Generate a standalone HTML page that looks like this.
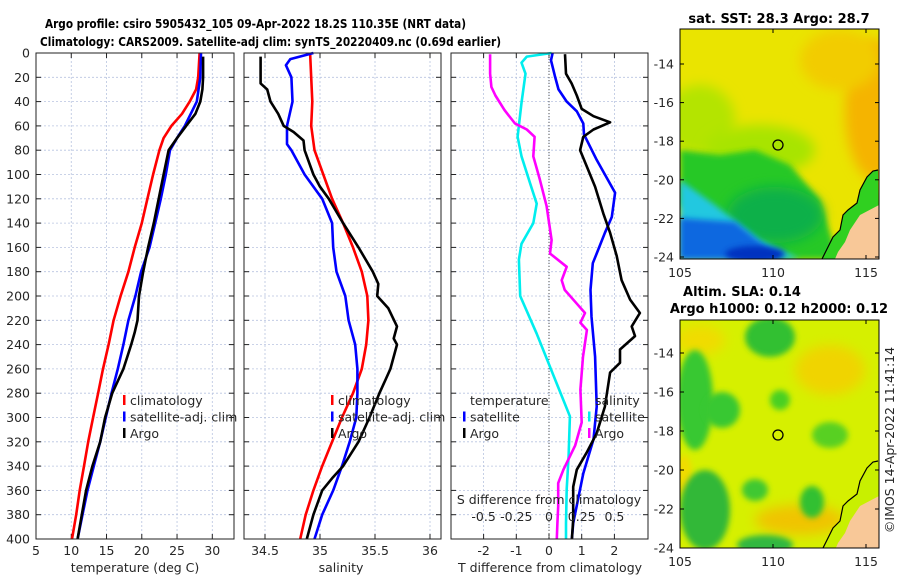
<!DOCTYPE html>
<html><head><meta charset="utf-8"><style>
body{margin:0;background:#fff;}
svg{display:block;font-family:"DejaVu Sans","Liberation Sans",sans-serif;}
.t{font-size:12.5px;fill:#262626;}
.b{font-size:13px;font-weight:bold;fill:#000;}
.tt{font-size:12px;font-weight:bold;fill:#000;}
</style></head><body>
<svg id="fig" width="900" height="580" viewBox="0 0 900 580">
<defs>
<filter id="bl" x="-50%" y="-50%" width="200%" height="200%"><feGaussianBlur stdDeviation="6"/></filter>
<filter id="bl2" x="-50%" y="-50%" width="200%" height="200%"><feGaussianBlur stdDeviation="3"/></filter>
<clipPath id="c1"><rect x="680" y="29" width="199" height="230"/></clipPath>
<clipPath id="c2"><rect x="680" y="320" width="199" height="228"/></clipPath>
</defs>
<text class="tt" x="45" y="28" textLength="421" lengthAdjust="spacingAndGlyphs">Argo profile: csiro 5905432_105 09-Apr-2022 18.2S 110.35E (NRT data)</text>
<text class="tt" x="40" y="46" textLength="461" lengthAdjust="spacingAndGlyphs">Climatology: CARS2009. Satellite-adj clim: synTS_20220409.nc (0.69d earlier)</text>

<g id="panels"></g>

<!-- top map -->
<g>
<g clip-path="url(#c1)">
<rect x="680" y="29" width="199" height="230" fill="#eae400"/>
<ellipse cx="875" cy="110" rx="30" ry="70" fill="#f5b400" filter="url(#bl)"/>
<ellipse cx="840" cy="60" rx="40" ry="30" fill="#f2cc00" filter="url(#bl)"/>
<ellipse cx="700" cy="120" rx="35" ry="35" fill="#b4e400" filter="url(#bl)"/>
<ellipse cx="760" cy="150" rx="55" ry="25" fill="#a8e400" filter="url(#bl)"/>
<polygon points="680,150 720,155 755,150 790,165 820,200 838,259 760,259 680,205" fill="#28c828" filter="url(#bl2)"/>
<ellipse cx="775" cy="215" rx="48" ry="28" fill="#10b048" filter="url(#bl)"/>
<polygon points="680,180 715,205 760,240 800,259 680,259" fill="#20c8e0" filter="url(#bl2)"/>
<polygon points="680,218 735,222 770,250 780,259 680,259" fill="#1068e0" filter="url(#bl2)"/>
<ellipse cx="755" cy="254" rx="30" ry="8" fill="#0030c0" filter="url(#bl2)"/>
<polygon points="878,170 873,171 867,177 860,190 857,203 848,210 843,215 840,230 833,237 828,247 822,259 879,259" fill="#30d020"/>
<polygon points="879,205 860,215 850,230 845,242 838,252 835,259 879,259" fill="#f8c898"/>
<polyline points="878,170 873,171 867,177 860,190 857,203 848,210 843,215 840,230 833,237 828,247 822,259" fill="none" stroke="#000" stroke-width="1.2"/>
</g>
<rect x="680" y="29" width="199" height="230" fill="none" stroke="#000" stroke-width="1"/>
<circle cx="778" cy="145" r="5" fill="none" stroke="#000" stroke-width="1.3"/>
<text class="b" x="779" y="23" text-anchor="middle">sat. SST: 28.3 Argo: 28.7</text>
</g>
<!-- bottom map -->
<g>
<g clip-path="url(#c2)">
<rect x="680" y="320" width="199" height="228" fill="#d6f000"/>
<ellipse cx="700" cy="340" rx="25" ry="15" fill="#f0dc00" filter="url(#bl)"/>
<ellipse cx="830" cy="370" rx="35" ry="25" fill="#f0d400" filter="url(#bl)"/>
<ellipse cx="800" cy="520" rx="45" ry="15" fill="#f0c400" filter="url(#bl)"/>
<ellipse cx="684" cy="475" rx="8" ry="20" fill="#f0dc00" filter="url(#bl2)"/>
<ellipse cx="770" cy="337" rx="25" ry="20" fill="#30c030" filter="url(#bl2)"/>
<ellipse cx="695" cy="400" rx="18" ry="50" fill="#38c830" filter="url(#bl2)"/>
<ellipse cx="722" cy="410" rx="18" ry="18" fill="#38c830" filter="url(#bl2)"/>
<ellipse cx="705" cy="510" rx="25" ry="40" fill="#30b838" filter="url(#bl2)"/>
<ellipse cx="780" cy="400" rx="10" ry="10" fill="#48d020" filter="url(#bl2)"/>
<ellipse cx="830" cy="435" rx="18" ry="13" fill="#58d020" filter="url(#bl2)"/>
<ellipse cx="755" cy="490" rx="13" ry="11" fill="#40c830" filter="url(#bl2)"/>
<ellipse cx="812" cy="502" rx="12" ry="16" fill="#30c030" filter="url(#bl2)"/>
<ellipse cx="765" cy="545" rx="28" ry="10" fill="#30b840" filter="url(#bl2)"/>
<polygon points="878,461 873,462 867,468 860,481 857,494 848,501 843,506 840,521 833,528 828,538 822,550 879,550" fill="#c8f000"/>
<polygon points="879,496 860,506 850,521 845,533 838,543 835,550 879,550" fill="#f8c898"/>
<polyline points="878,461 873,462 867,468 860,481 857,494 848,501 843,506 840,521 833,528 828,538 822,550" fill="none" stroke="#000" stroke-width="1.2"/>
</g>
<rect x="680" y="320" width="199" height="228" fill="none" stroke="#000" stroke-width="1"/>
<circle cx="778" cy="435" r="5" fill="none" stroke="#000" stroke-width="1.3"/>
<text class="b" x="742" y="296" text-anchor="middle">Altim. SLA: 0.14</text>
<text class="b" x="779" y="313" text-anchor="middle">Argo h1000: 0.12 h2000: 0.12</text>
</g>
<g id="mapticks"></g>
<text class="t" transform="translate(894,440) rotate(-90)" text-anchor="middle">©IMOS 14-Apr-2022 11:41:14</text>
</svg>
<script>
// ---- data (depth in m) ----
const tClimDepth=[0,20,30,40,50,60,70,80,100,120,140,160,180,200,220,240,260,280,300,320,340,360,380,400];
const tClimVal=[28.2,28.0,27.7,26.8,25.7,24.2,23.1,22.5,21.6,20.8,20.0,19.0,18.1,17.0,16.0,15.3,14.5,13.8,13.1,12.4,11.8,11.2,10.7,10.1];
const tSatDepth=[0,20,40,60,70,80,100,120,140,160,180,200,220,240,260,280,300,320,340,360,380,400];
const tSatVal=[28.4,28.3,27.8,26.1,25.0,24.0,23.4,22.7,21.9,21.1,19.9,19.1,18.1,17.4,16.6,15.7,14.9,14.1,13.2,12.3,11.6,10.9];
const tArgoDepth=[3,20,30,40,50,60,70,80,100,120,140,160,180,200,220,230,240,260,280,300,320,340,360,380,400];
const tArgoVal=[28.7,28.7,28.6,28.3,27.6,26.3,25.0,23.8,23.1,22.4,21.7,20.9,20.2,19.6,19.4,19.0,18.5,17.4,15.8,14.8,14.1,13.0,12.1,11.5,10.9];
const sClimDepth=[0,20,40,60,80,100,120,140,160,180,200,220,240,260,280,300,320,340,360,380,400];
const sClimVal=[34.91,34.92,34.93,34.92,34.95,35.03,35.11,35.21,35.30,35.38,35.43,35.44,35.42,35.38,35.30,35.20,35.11,35.02,34.94,34.87,34.82];
const sSatDepth=[0,5,10,20,40,60,75,80,100,120,140,160,180,200,220,240,260,280,300,320,340,360,380,400];
const sSatVal=[34.94,34.73,34.69,34.74,34.75,34.70,34.70,34.74,34.86,35.02,35.11,35.12,35.15,35.23,35.26,35.32,35.34,35.34,35.33,35.27,35.20,35.12,35.02,34.95];
const sArgoDepth=[3,25,30,40,50,60,65,72,80,100,110,120,140,160,180,190,200,210,225,235,240,260,270,280,300,320,340,350,360,380,400];
const sArgoVal=[34.46,34.46,34.52,34.55,34.62,34.67,34.76,34.85,34.86,34.94,35.00,35.08,35.21,35.35,35.48,35.53,35.52,35.62,35.70,35.67,35.70,35.64,35.59,35.54,35.45,35.35,35.21,35.11,35.02,34.94,34.88];
const dtSatDepth=[0,6,19,30,40,48,58,67,88,115,135,148,165,173,195,217,250,291,318,346,387,400];
const dtSatVal=[0.11,0.06,0.18,0.29,0.54,0.85,1.05,1.07,1.46,2.02,1.92,1.71,1.46,1.34,1.27,1.30,1.41,1.46,1.36,1.05,0.74,0.70];
const dtArgoDepth=[1,17,25,35,46,52,57,63,69,80,93,110,132,148,167,187,203,214,225,233,244,255,263,291,313,329,343,357,384,400];
const dtArgoVal=[0.49,0.52,0.69,0.85,1.0,1.36,1.87,1.36,1.05,0.95,1.15,1.41,1.66,1.87,2.07,2.22,2.48,2.78,2.53,2.63,2.17,2.17,1.87,1.71,1.46,1.15,0.85,0.74,0.74,0.70];
const dsSatDepth=[0,3,8,17,41,69,85,107,124,140,157,170,200,231,272,299,332,359,387,400];
const dsSatVal=[0.02,-0.17,-0.21,-0.18,-0.21,-0.24,-0.21,-0.145,-0.094,-0.12,-0.21,-0.23,-0.22,-0.094,0.059,0.16,0.15,0.135,0.13,0.13];
const dsArgoDepth=[1,17,28,35,47,58,63,69,85,104,126,154,165,176,187,195,206,214,222,228,250,277,304,323,343,354,373,387,400];
const dsArgoVal=[-0.45,-0.45,-0.44,-0.41,-0.34,-0.26,-0.17,-0.11,-0.12,-0.07,-0.018,0.02,0.008,0.135,0.097,0.12,0.21,0.275,0.24,0.29,0.26,0.24,0.25,0.2,0.11,0.07,0.07,0.064,0.06];
const depthTicks=[0,20,40,60,80,100,120,140,160,180,200,220,240,260,280,300,320,340,360,380,400];
const tTicks=[5,10,15,20,25,30];
const sTicks=[34.5,35,35.5,36];
const dtTicks=[-2,-1,0,1,2];
const dsTicks=[-0.5,-0.25,0,0.25,0.5];
const dsTickLabels=["-0.5","-0.25","0","0.25","0.5"];
const latTicks=[-14,-16,-18,-20,-22,-24];
const lonTicks=[105,110,115];

const NS='http://www.w3.org/2000/svg';
const root=document.getElementById('panels');
function mk(tag,attrs,parent){const e=document.createElementNS(NS,tag);for(const k in attrs)e.setAttribute(k,attrs[k]);(parent||root).appendChild(e);return e;}
const Y0=53,Y1=539;
function yD(d){return Y0+(d/400)*(Y1-Y0);}
function scale(v0,p0,v1,p1){return v=>p0+(v-v0)*(p1-p0)/(v1-v0);}
const xT=scale(5,36,30,212.3), xS=scale(34.5,265,36,430), xDT=scale(0,549,2,614.4), xDS=scale(0,549,0.5,614.4);
const panels=[{x0:36,x1:234,name:'temperature-panel'},{x0:244,x1:441,name:'salinity-panel'},{x0:451,x1:648,name:'difference-panel'}];

function tx(x,y,s,anchor,parent){const e=mk('text',{x:x,y:y,'text-anchor':anchor||'middle','class':'t'},parent);e.textContent=s;return e;}

panels.forEach((p,i)=>{
  const g=mk('g',{});
  
  
  p.g=g;
  depthTicks.forEach(d=>{
    const l=mk('line',{x1:p.x0,x2:p.x1,y1:yD(d),y2:yD(d),stroke:'#b8c4e0','stroke-width':0.8,'stroke-dasharray':'2,2'},g);
    
    
    mk('line',{x1:p.x0,x2:p.x0+5,y1:yD(d),y2:yD(d),stroke:'#222'},g);
    mk('line',{x1:p.x1-5,x2:p.x1,y1:yD(d),y2:yD(d),stroke:'#222'},g);
  });
});
function vgrid(p,ticks,fx){ticks.forEach(t=>{const x=fx(t);
  const l=mk('line',{x1:x,x2:x,y1:Y0,y2:Y1,stroke:'#b8c4e0','stroke-width':0.8,'stroke-dasharray':'2,2'},p.g);
  
  
  mk('line',{x1:x,x2:x,y1:Y0,y2:Y0+5,stroke:'#222'},p.g);
  mk('line',{x1:x,x2:x,y1:Y1-5,y2:Y1,stroke:'#222'},p.g);
});}
vgrid(panels[0],tTicks,xT);vgrid(panels[1],sTicks,xS);vgrid(panels[2],dtTicks,xDT);
mk('line',{x1:xDT(0),x2:xDT(0),y1:Y0,y2:Y1,stroke:'#555','stroke-width':1,'stroke-dasharray':'1,2'},panels[2].g);
depthTicks.forEach(d=>{const e=tx(30,yD(d)+4.5,String(d),'end');});
tTicks.forEach(t=>{const e=tx(xT(t),555,String(t));});
sTicks.forEach(t=>{const e=tx(xS(t),555,String(t));});
dtTicks.forEach(t=>{const e=tx(xDT(t),555,String(t));});
dsTicks.forEach((t,i)=>{const e=tx(xDS(t),521,dsTickLabels[i]);});
let e;
e=tx(135,572,'temperature (deg C)');
e=tx(341,572,'salinity');
e=tx(550,572,'T difference from climatology');

function line(p,depths,vals,fx,color,name){
  const pts=depths.map((d,i)=>fx(vals[i]).toFixed(1)+','+yD(d).toFixed(1)).join(' ');
  const l=mk('polyline',{points:pts,fill:'none',stroke:color,'stroke-width':2.6,'stroke-linejoin':'round'},p.g);
  
  
}
line(panels[0],tClimDepth,tClimVal,xT,'#ff0000','temp-climatology-line');
line(panels[0],tSatDepth,tSatVal,xT,'#0000ff','temp-satellite-line');
line(panels[0],tArgoDepth,tArgoVal,xT,'#000000','temp-argo-line');
line(panels[1],sClimDepth,sClimVal,xS,'#ff0000','sal-climatology-line');
line(panels[1],sSatDepth,sSatVal,xS,'#0000ff','sal-satellite-line');
line(panels[1],sArgoDepth,sArgoVal,xS,'#000000','sal-argo-line');
line(panels[2],dsSatDepth,dsSatVal,xDS,'#00eeee','sdiff-satellite-line');
line(panels[2],dsArgoDepth,dsArgoVal,xDS,'#ff00ff','sdiff-argo-line');
line(panels[2],dtSatDepth,dtSatVal,xDT,'#0000ff','tdiff-satellite-line');
line(panels[2],dtArgoDepth,dtArgoVal,xDT,'#000000','tdiff-argo-line');

panels.forEach(p=>{mk('rect',{x:p.x0,y:Y0,width:p.x1-p.x0,height:Y1-Y0,fill:'none',stroke:'#222','stroke-width':1},p.g);});

function legend(p,x,y,items,name){
  const g=mk('g',{},p.g);
  
  
  items.forEach((it,i)=>{
    if(it[1])mk('rect',{x:x,y:y+i*16.5-10,width:2.5,height:10,fill:it[1]},g);
    tx(x+7,y+i*16.5,it[0],'start',g);
  });
}
legend(panels[0],123,405,[['climatology','#ff0000'],['satellite-adj. clim','#0000ff'],['Argo','#000']],'temperature-legend');
legend(panels[1],331,405,[['climatology','#ff0000'],['satellite-adj. clim','#0000ff'],['Argo','#000']],'salinity-legend');
legend(panels[2],463,405,[['temperature',null],['satellite','#0000ff'],['Argo','#000']],'tdiff-legend');
legend(panels[2],588,405,[['salinity',null],['satellite','#00eeee'],['Argo','#ff00ff']],'sdiff-legend');
e=tx(549,504,'S difference from climatology');

const mt=document.getElementById('mapticks');
const lonX=scale(105,680,110,773);
[[29,259,-14,64,-24,257],[320,548,-14,353,-24,548]].forEach(m=>{
  const ly=scale(m[2],m[3],m[4],m[5]);
  latTicks.forEach(l=>{const y=ly(l);
    mk('line',{x1:680,x2:684,y1:y,y2:y,stroke:'#000'},mt);mk('line',{x1:875,x2:879,y1:y,y2:y,stroke:'#000'},mt);
    const t=tx(674,y+4.5,String(l),'end',mt);});
  lonTicks.forEach(l=>{const x=lonX(l);
    mk('line',{x1:x,x2:x,y1:m[1],y2:m[1]-4,stroke:'#000'},mt);mk('line',{x1:x,x2:x,y1:m[0],y2:m[0]+4,stroke:'#000'},mt);
    const t=tx(x,m[1]+18,String(l),'middle',mt);});
});
</script>
</body></html>
